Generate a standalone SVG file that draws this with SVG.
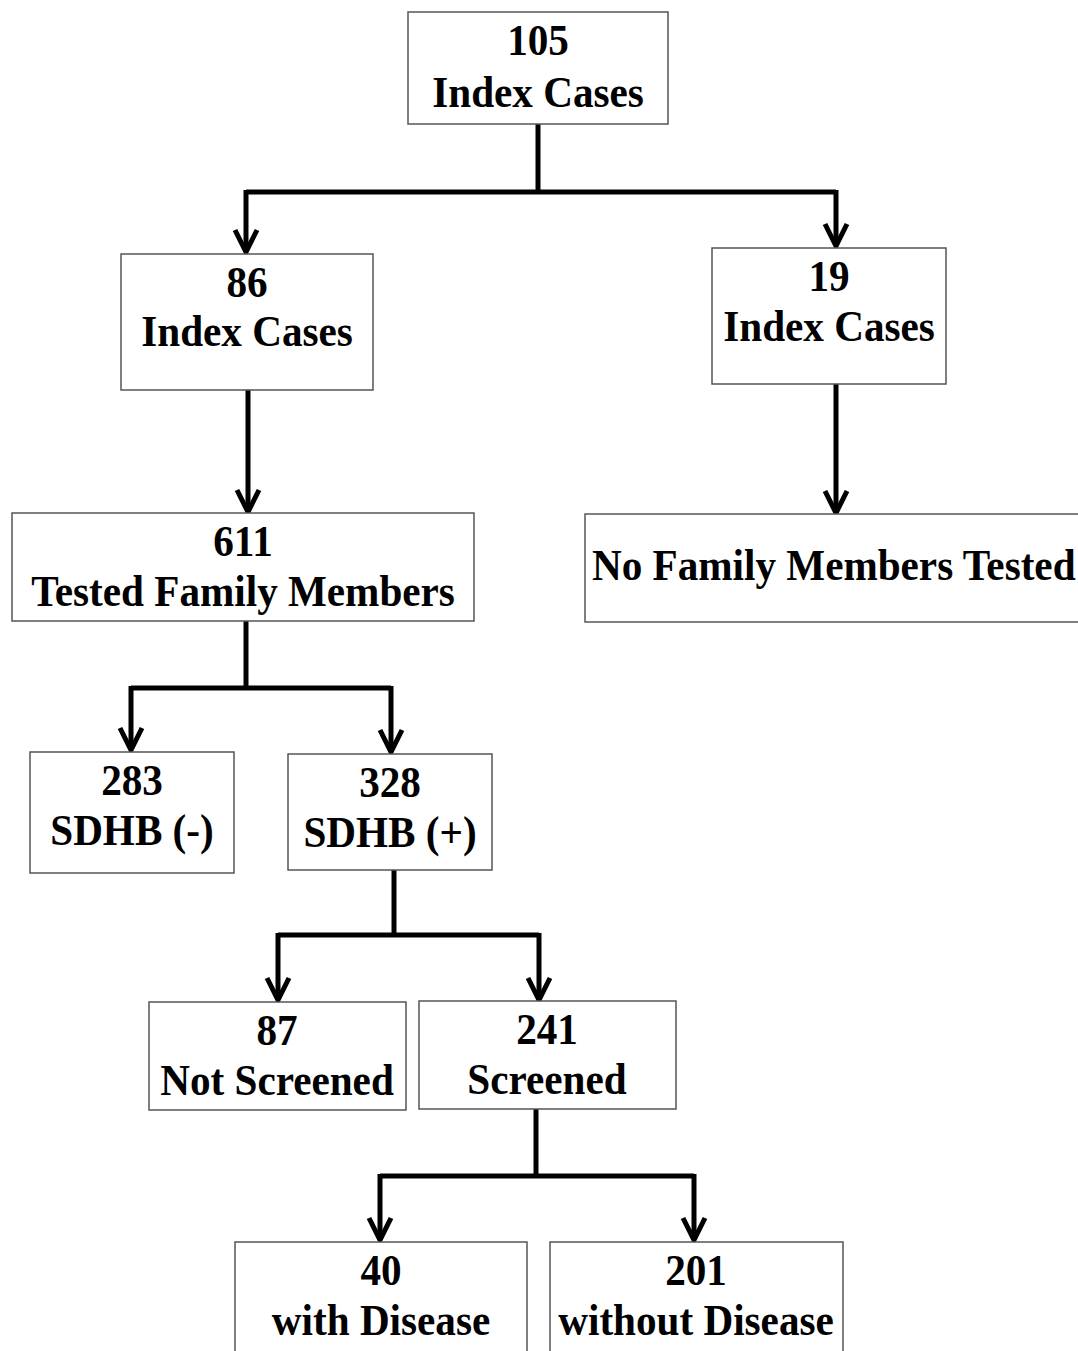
<svg xmlns="http://www.w3.org/2000/svg" width="1078" height="1351" viewBox="0 0 1078 1351">
<style>
.box{fill:#fff;stroke:#555;stroke-width:1.5}
.t{font-family:"Liberation Serif","Times New Roman",serif;font-weight:bold;font-size:45px;fill:#000;text-anchor:middle}
.ts{font-family:"Liberation Serif","Times New Roman",serif;font-weight:bold;font-size:45px;fill:#000;text-anchor:start}
.c{fill:none;stroke:#000;stroke-width:5;stroke-linejoin:miter}
</style>
<defs>
<marker id="arr" markerUnits="userSpaceOnUse" viewBox="-28 -16 32 32" refX="0" refY="0" markerWidth="32" markerHeight="32" orient="auto">
<path d="M-22,-11 L0,0 L-22,11" fill="none" stroke="#000" stroke-width="5" stroke-linejoin="miter"/>
</marker>
</defs>
<rect width="1078" height="1351" fill="#fff"/>
<g id="connectors">
<path class="c" d="M538,124 V192"/>
<path class="c" d="M246,192 H836" />
<path class="c" d="M246,190 V252" marker-end="url(#arr)"/>
<path class="c" d="M836,190 V246" marker-end="url(#arr)"/>
<path class="c" d="M248,390 V512" marker-end="url(#arr)"/>
<path class="c" d="M836,384 V513" marker-end="url(#arr)"/>
<path class="c" d="M246,621 V688"/>
<path class="c" d="M131,688 H391"/>
<path class="c" d="M131,686 V750" marker-end="url(#arr)"/>
<path class="c" d="M391,686 V752" marker-end="url(#arr)"/>
<path class="c" d="M394,870 V935"/>
<path class="c" d="M278,935 H539"/>
<path class="c" d="M278,933 V1000" marker-end="url(#arr)"/>
<path class="c" d="M539,933 V1000" marker-end="url(#arr)"/>
<path class="c" d="M536,1109 V1176"/>
<path class="c" d="M380,1176 H694"/>
<path class="c" d="M380,1174 V1240" marker-end="url(#arr)"/>
<path class="c" d="M694,1174 V1240" marker-end="url(#arr)"/>
</g>
<g id="n105">
<rect class="box" x="408" y="12" width="260" height="112"/>
<text class="t" transform="translate(538,55) scale(0.915,1)">105</text>
<text class="t" transform="translate(538,107) scale(0.915,1)">Index Cases</text>
</g>
<g id="n86">
<rect class="box" x="121" y="254" width="252" height="136"/>
<text class="t" transform="translate(247,297) scale(0.915,1)">86</text>
<text class="t" transform="translate(247,346) scale(0.915,1)">Index Cases</text>
</g>
<g id="n19">
<rect class="box" x="712" y="248" width="234" height="136"/>
<text class="t" transform="translate(829,291) scale(0.915,1)">19</text>
<text class="t" transform="translate(829,341) scale(0.915,1)">Index Cases</text>
</g>
<g id="n611">
<rect class="box" x="12" y="513" width="462" height="108"/>
<text class="t" transform="translate(243,556) scale(0.915,1)">611</text>
<text class="t" transform="translate(243,606) scale(0.915,1)">Tested Family Members</text>
</g>
<g id="nNoFamily">
<rect class="box" x="585" y="514" width="510" height="108"/>
<text class="ts" transform="translate(592,580) scale(0.915,1)">No Family Members Tested</text>
</g>
<g id="n283">
<rect class="box" x="30" y="752" width="204" height="121"/>
<text class="t" transform="translate(132,795) scale(0.915,1)">283</text>
<text class="t" transform="translate(132,845) scale(0.915,1)">SDHB (-)</text>
</g>
<g id="n328">
<rect class="box" x="288" y="754" width="204" height="116"/>
<text class="t" transform="translate(390,797) scale(0.915,1)">328</text>
<text class="t" transform="translate(390,847) scale(0.915,1)">SDHB (+)</text>
</g>
<g id="n87">
<rect class="box" x="149" y="1002" width="257" height="108"/>
<text class="t" transform="translate(277,1045) scale(0.915,1)">87</text>
<text class="t" transform="translate(277,1095) scale(0.915,1)">Not Screened</text>
</g>
<g id="n241">
<rect class="box" x="419" y="1001" width="257" height="108"/>
<text class="t" transform="translate(547,1044) scale(0.915,1)">241</text>
<text class="t" transform="translate(547,1094) scale(0.915,1)">Screened</text>
</g>
<g id="n40">
<rect class="box" x="235" y="1242" width="292" height="120"/>
<text class="t" transform="translate(381,1285) scale(0.915,1)">40</text>
<text class="t" transform="translate(381,1335) scale(0.915,1)">with Disease</text>
</g>
<g id="n201">
<rect class="box" x="550" y="1242" width="293" height="120"/>
<text class="t" transform="translate(696,1285) scale(0.915,1)">201</text>
<text class="t" transform="translate(696,1335) scale(0.915,1)">without Disease</text>
</g>
</svg>
